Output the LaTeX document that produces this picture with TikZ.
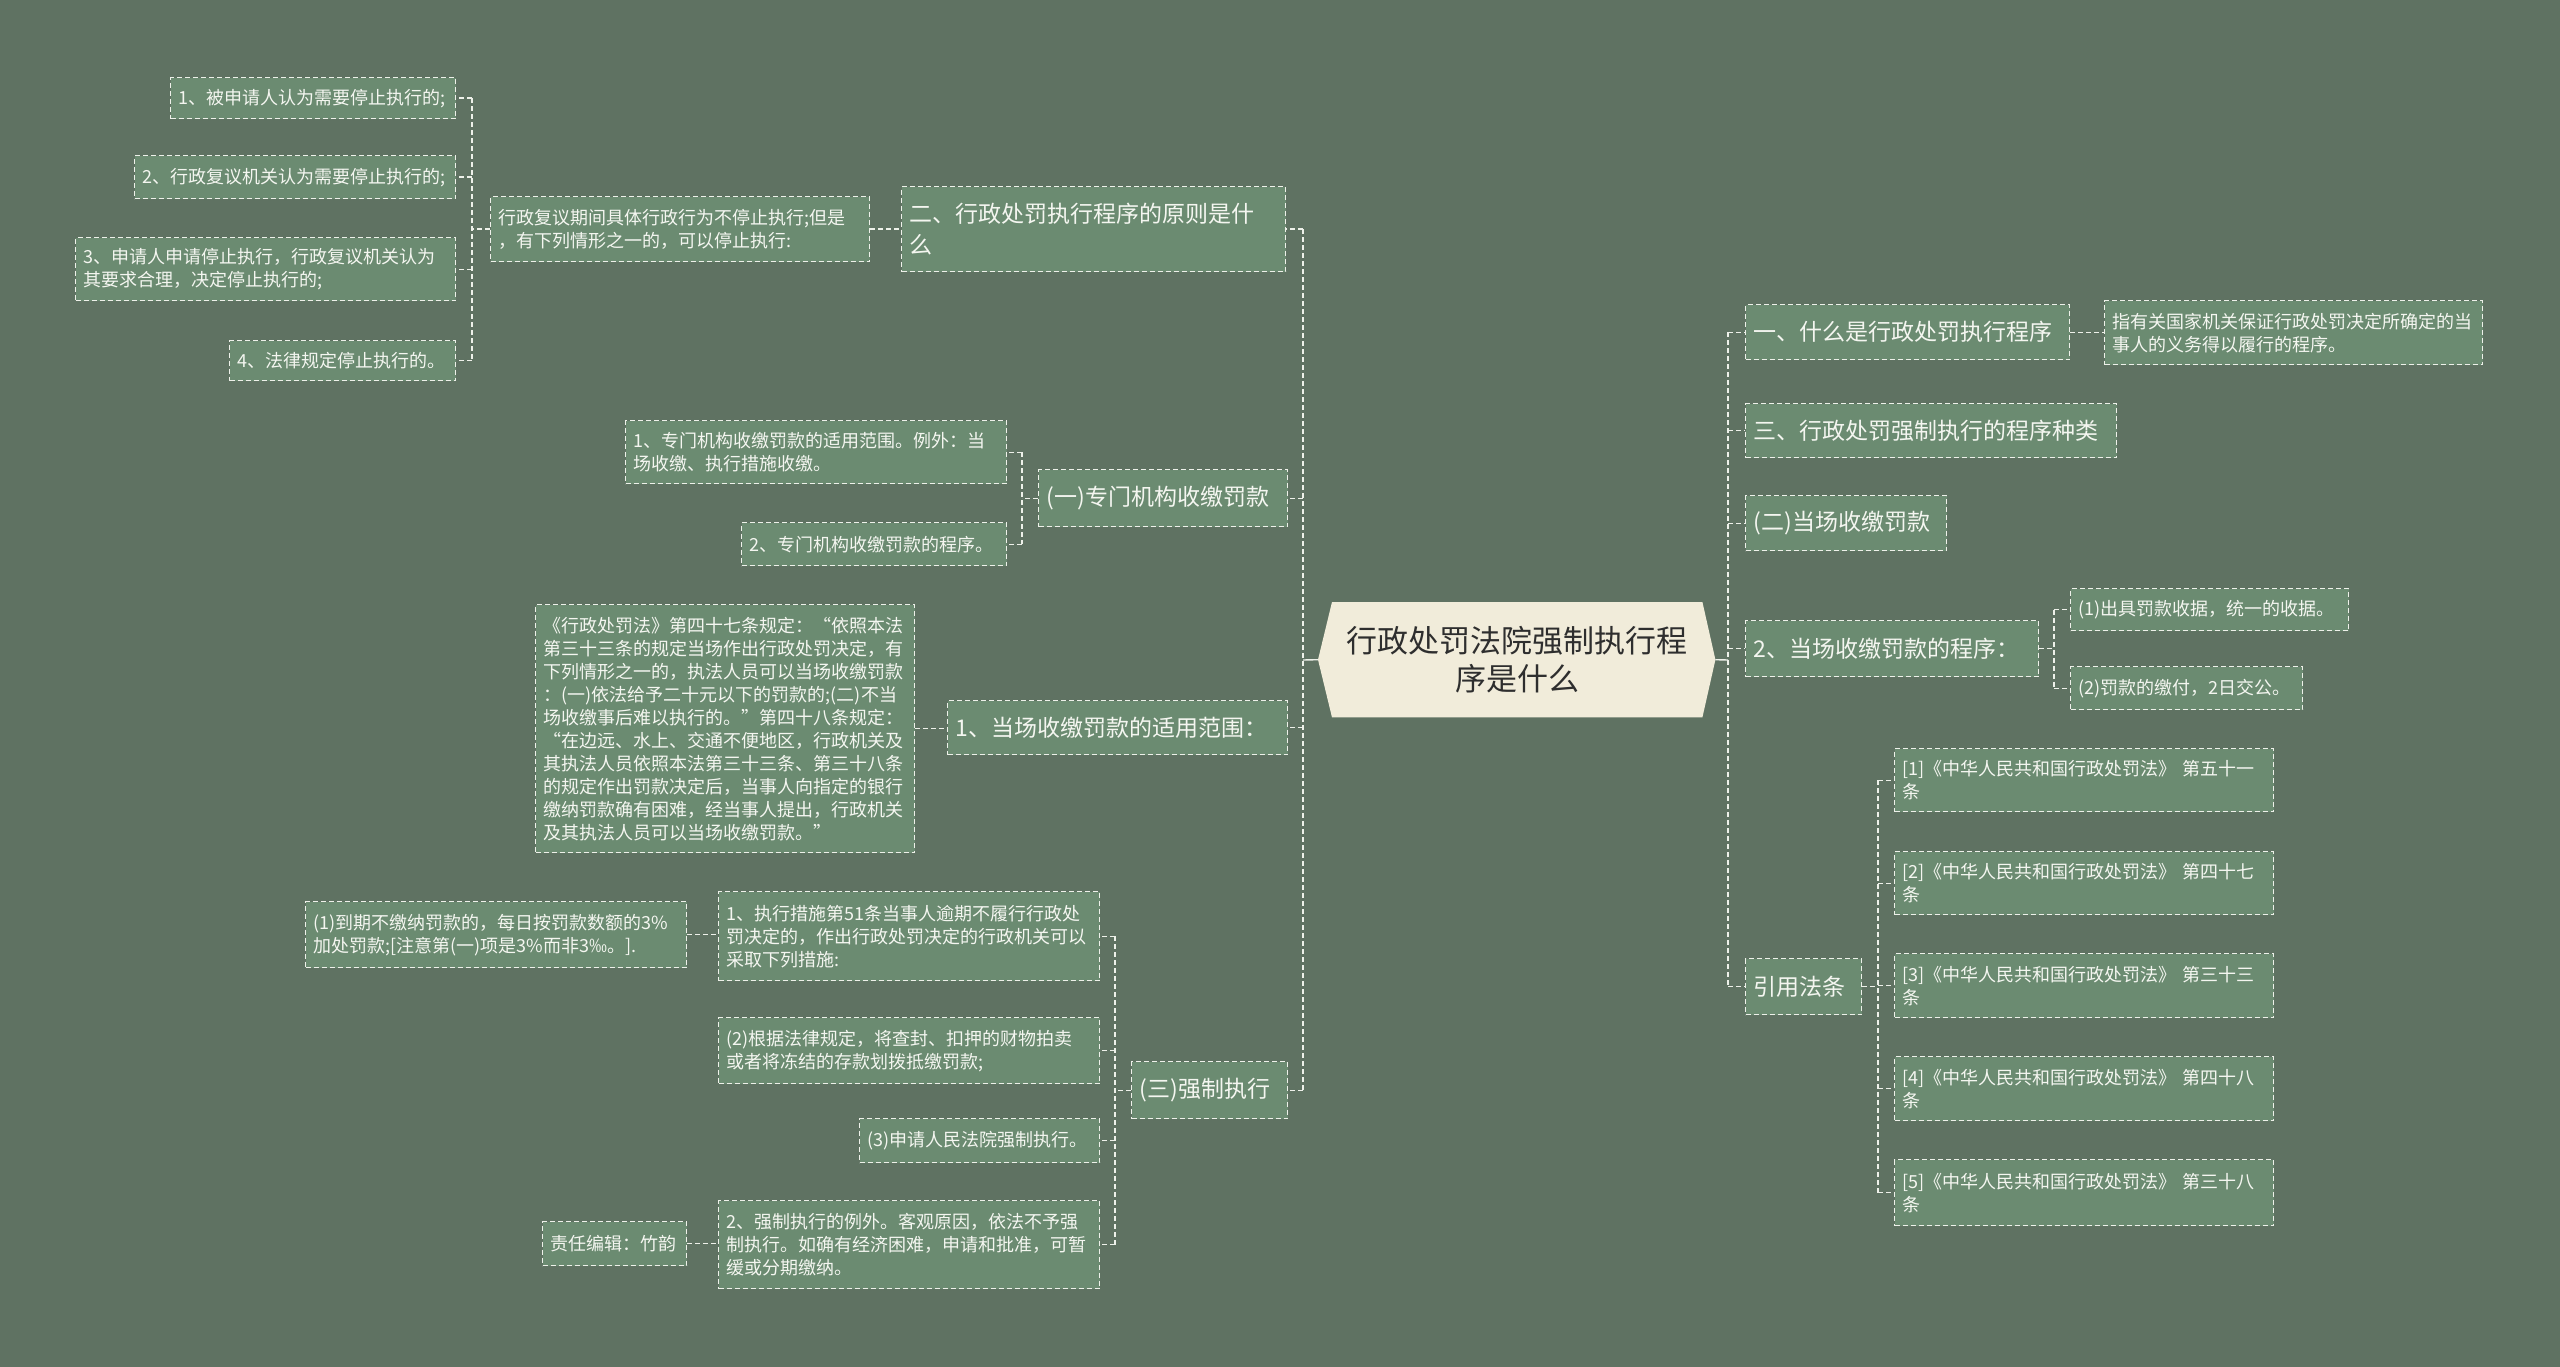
\documentclass[tikz,border=0pt]{standalone}
\usepackage{fontspec}
\newfontfamily\cjk{Noto Sans CJK SC}
\usetikzlibrary{calc}
\definecolor{bgc}{HTML}{5F7262}
\definecolor{nf}{HTML}{6B8B71}
\definecolor{lc}{HTML}{EEF1EA}
\definecolor{tc}{HTML}{F4F6F0}
\definecolor{cf}{HTML}{F1ECDA}
\definecolor{ct}{HTML}{2E2E2E}
\pgfdeclarelayer{back}
\pgfdeclarelayer{mid}
\pgfsetlayers{back,mid,main}
\tikzset{
 dashy/.style={dash pattern=on 5pt off 3pt, line width=1.4pt, draw=lc},
 box/.style={dashy, fill=nf, anchor=north west, inner xsep=8pt, inner ysep=0pt, text=tc, align=left, font=\cjk\fontsize{18}{23}\selectfont},
 mbox/.style={box, font=\cjk\fontsize{23}{31}\selectfont},
 conn/.style={dashy},
 solidconn/.style={line width=1.4pt, draw=lc},
}
\begin{document}
\begin{tikzpicture}[x=1pt,y=-1pt]
\useasboundingbox (0,0) rectangle (2560,1367);
\begin{pgfonlayer}{back}
\fill[bgc] (0,0) rectangle (2560,1367);
\end{pgfonlayer}

% center
\node[draw=none, fill=none, minimum width=370pt, minimum height=115pt, anchor=north west, inner sep=0pt, align=center, text=ct, font=\cjk\fontsize{31}{38}\selectfont] (ctr) at (1332,602) {行政处罚法院强制执行程\\序是什么};
\coordinate (ctrL) at ($(ctr.west)+(-14,0)$);
\coordinate (ctrR) at ($(ctr.east)+(13,0)$);
\begin{pgfonlayer}{mid}
\fill[cf] (ctr.north west) -- (ctr.north east) -- (ctrR) -- (ctr.south east) -- (ctr.south west) -- (ctrL) -- cycle;
\end{pgfonlayer}

% left side
\node[box, text width=269pt, minimum height=41pt] (A1) at (170,77) {1、被申请人认为需要停止执行的;};
\node[box, text width=305pt, minimum height=43pt] (A2) at (134,155) {2、行政复议机关认为需要停止执行的;};
\node[box, text width=364pt, minimum height=63pt] (A3) at (75,237) {3、申请人申请停止执行，行政复议机关认为\\其要求合理，决定停止执行的;};
\node[box, text width=210pt, minimum height=40pt] (A4) at (229,340) {4、法律规定停止执行的。};
\node[box, text width=363pt, minimum height=65pt] (A) at (490,196) {行政复议期间具体行政行为不停止执行;但是\\，有下列情形之一的，可以停止执行:};
\node[mbox, text width=368pt, minimum height=85pt] (B) at (901,186) {二、行政处罚执行程序的原则是什\\么};

\node[box, text width=365pt, minimum height=63pt] (C1) at (625,420) {1、专门机构收缴罚款的适用范围。例外：当\\场收缴、执行措施收缴。};
\node[box, text width=249pt, minimum height=43pt] (C2) at (741,522) {2、专门机构收缴罚款的程序。};
\node[mbox, text width=233pt, minimum height=57pt] (C) at (1038,469) {(一)专门机构收缴罚款};

\node[box, text width=363pt, minimum height=248pt] (D1) at (535,604) {《行政处罚法》第四十七条规定：“依照本法\\第三十三条的规定当场作出行政处罚决定，有\\下列情形之一的，执法人员可以当场收缴罚款\\：(一)依法给予二十元以下的罚款的;(二)不当\\场收缴事后难以执行的。”第四十八条规定：\\“在边远、水上、交通不便地区，行政机关及\\其执法人员依照本法第三十三条、第三十八条\\的规定作出罚款决定后，当事人向指定的银行\\缴纳罚款确有困难，经当事人提出，行政机关\\及其执法人员可以当场收缴罚款。”};
\node[mbox, text width=324pt, minimum height=54pt] (D) at (947,700) {1、当场收缴罚款的适用范围：};

\node[mbox, text width=140pt, minimum height=57pt] (E) at (1131,1061) {(三)强制执行};
\node[box, text width=365pt, minimum height=89pt] (E1) at (718,891) {1、执行措施第51条当事人逾期不履行行政处\\罚决定的，作出行政处罚决定的行政机关可以\\采取下列措施:};
\node[box, text width=365pt, minimum height=66pt] (E11) at (305,901) {(1)到期不缴纳罚款的，每日按罚款数额的3\%\\加处罚款;[注意第(一)项是3\%而非3‰。].};
\node[box, text width=365pt, minimum height=66pt] (E2) at (718,1017) {(2)根据法律规定，将查封、扣押的财物拍卖\\或者将冻结的存款划拨抵缴罚款;};
\node[box, text width=224pt, minimum height=44pt] (E3) at (859,1118) {(3)申请人民法院强制执行。};
\node[box, text width=365pt, minimum height=88pt] (E4) at (718,1200) {2、强制执行的例外。客观原因，依法不予强\\制执行。如确有经济困难，申请和批准，可暂\\缓或分期缴纳。};
\node[box, text width=128pt, minimum height=44pt] (E41) at (542,1221) {责任编辑：竹韵};

% right side
\node[mbox, text width=308pt, minimum height=55pt] (F1) at (1745,304) {一、什么是行政处罚执行程序};
\node[box, text width=362pt, minimum height=64pt] (F11) at (2104,300) {指有关国家机关保证行政处罚决定所确定的当\\事人的义务得以履行的程序。};
\node[mbox, text width=355pt, minimum height=54pt] (F2) at (1745,403) {三、行政处罚强制执行的程序种类};
\node[mbox, text width=185pt, minimum height=55pt] (F3) at (1745,495) {(二)当场收缴罚款};
\node[mbox, text width=277pt, minimum height=56pt] (F4) at (1745,620) {2、当场收缴罚款的程序：};
\node[box, text width=262pt, minimum height=42pt] (F41) at (2070,588) {(1)出具罚款收据，统一的收据。};
\node[box, text width=216pt, minimum height=43pt] (F42) at (2070,666) {(2)罚款的缴付，2日交公。};
\node[mbox, text width=100pt, minimum height=56pt] (F5) at (1745,958) {引用法条};
\node[box, text width=363pt, minimum height=63pt] (F51) at (1894,748) {[1]《中华人民共和国行政处罚法》 第五十一\\条};
\node[box, text width=363pt, minimum height=63pt] (F52) at (1894,851) {[2]《中华人民共和国行政处罚法》 第四十七\\条};
\node[box, text width=363pt, minimum height=64pt] (F53) at (1894,953) {[3]《中华人民共和国行政处罚法》 第三十三\\条};
\node[box, text width=363pt, minimum height=64pt] (F54) at (1894,1056) {[4]《中华人民共和国行政处罚法》 第四十八\\条};
\node[box, text width=363pt, minimum height=66pt] (F55) at (1894,1159) {[5]《中华人民共和国行政处罚法》 第三十八\\条};

% connectors
\coordinate (LT) at (1303,660);
\coordinate (RT) at (1728,660);
\draw[solidconn] (ctrL) -- (LT);
\draw[solidconn] (ctrR) -- (RT);
\draw[conn] (LT |- B.east) -- (LT |- E.east);
\foreach \n in {B,C,D,E} \draw[conn] (LT |- \n.east) -- (\n.east);
\draw[conn] (RT |- F1.west) -- (RT |- F5.west);
\foreach \n in {F1,F2,F3,F4,F5} \draw[conn] (RT |- \n.west) -- (\n.west);

\coordinate (TA) at (472,0);
\draw[conn] (TA |- A1.east) -- (TA |- A4.east);
\foreach \n in {A1,A2,A3,A4} \draw[conn] (TA |- \n.east) -- (\n.east);
\draw[conn] (A.west) -- (TA |- A.west);

\coordinate (TC) at (1022,0);
\draw[conn] (TC |- C1.east) -- (TC |- C2.east);
\foreach \n in {C1,C2} \draw[conn] (TC |- \n.east) -- (\n.east);
\draw[conn] (C.west) -- (TC |- C.west);

\coordinate (TE) at (1115,0);
\draw[conn] (TE |- E1.east) -- (TE |- E4.east);
\foreach \n in {E1,E2,E3,E4} \draw[conn] (TE |- \n.east) -- (\n.east);
\draw[conn] (E.west) -- (TE |- E.west);

\coordinate (TF4) at (2054,0);
\draw[conn] (TF4 |- F41.west) -- (TF4 |- F42.west);
\foreach \n in {F41,F42} \draw[conn] (TF4 |- \n.west) -- (\n.west);
\draw[conn] (F4.east) -- (TF4 |- F4.east);

\coordinate (TF5) at (1878,0);
\draw[conn] (TF5 |- F51.west) -- (TF5 |- F55.west);
\foreach \n in {F51,F52,F53,F54,F55} \draw[conn] (TF5 |- \n.west) -- (\n.west);
\draw[conn] (F5.east) -- (TF5 |- F5.east);

\draw[conn] (A.east) -- (A.east -| B.west);
\draw[conn] (D1.east) -- (D1.east -| D.west);
\draw[conn] (E11.east) -- (E11.east -| E1.west);
\draw[conn] (E41.east) -- (E41.east -| E4.west);
\draw[conn] (F1.east) -- (F1.east -| F11.west);
\end{tikzpicture}
\end{document}
